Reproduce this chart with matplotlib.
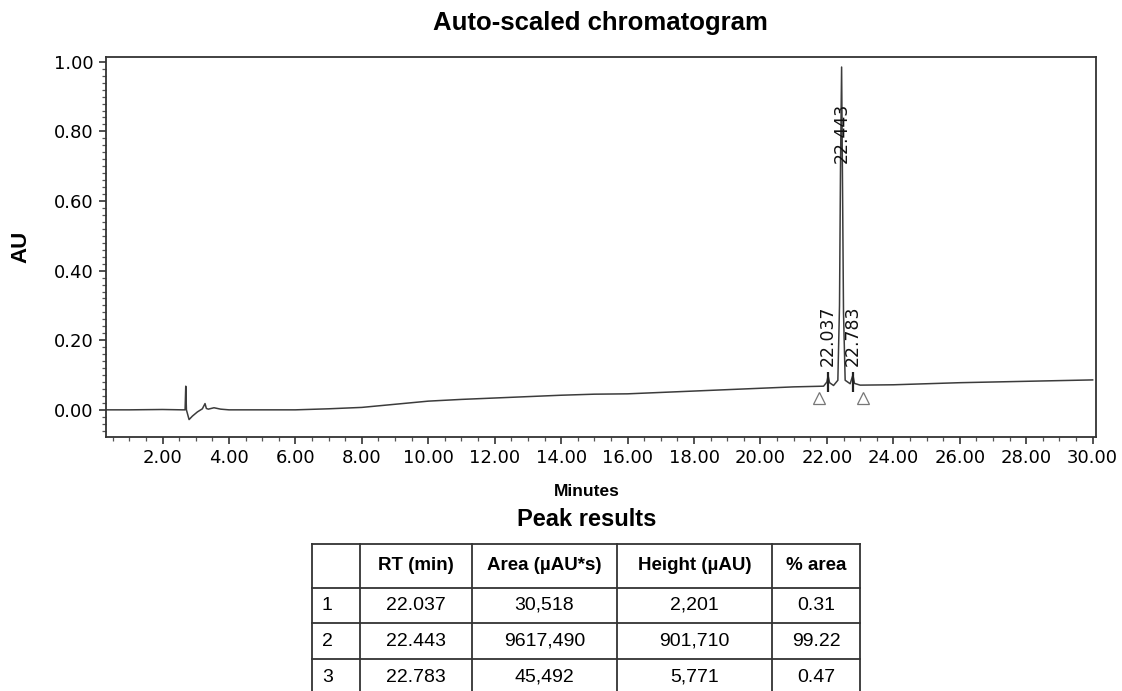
import matplotlib.pyplot as plt
from matplotlib.ticker import MultipleLocator, FormatStrFormatter

# chromatogram trace (minutes, AU)
time_min = [0.3, 1.0, 2.0, 2.6, 2.68, 2.70, 2.72, 2.80, 2.90, 3.05, 3.20, 3.28, 3.32, 3.38,
            3.55, 3.75, 4.0, 5.0, 6.0, 7.0, 8.0, 9.0, 10.0, 11.0, 12.0, 13.0, 14.0,
            15.0, 16.0, 17.0, 18.0, 19.0, 20.0, 21.0, 21.9, 22.0, 22.037, 22.08,
            22.2, 22.33, 22.38, 22.41, 22.443, 22.47, 22.50, 22.55, 22.70, 22.783,
            22.83, 23.0, 24.0, 25.0, 26.0, 27.0, 28.0, 29.0, 30.0]
au = [0.0, 0.0, 0.001, 0.0, 0.0, 0.068, 0.0, -0.028, -0.018, -0.006, 0.003, 0.018, 0.004, 0.002,
      0.006, 0.002, 0.0, 0.0, 0.0, 0.003, 0.007, 0.016, 0.025, 0.030, 0.034, 0.038, 0.042,
      0.045, 0.046, 0.050, 0.054, 0.058, 0.062, 0.066, 0.068, 0.080, 0.098, 0.078,
      0.070, 0.085, 0.30, 0.70, 0.985, 0.65, 0.28, 0.085, 0.075, 0.100,
      0.076, 0.071, 0.072, 0.075, 0.078, 0.080, 0.082, 0.084, 0.086]

peak_rt = [22.037, 22.443, 22.783]
peak_label_y = [0.125, 0.71, 0.125]
bound_time = [21.75, 23.10]
bound_au = [0.035, 0.035]

# peak results table
headers = ['', 'RT (min)', 'Area (µAU*s)', 'Height (µAU)', '% area']
peak_ids = ['1', '2', '3']
rt_text = ['22.037', '22.443', '22.783']
area_text = ['30,518', '9617,490', '45,492']
height_text = ['2,201', '901,710', '5,771']
pct_text = ['0.31', '99.22', '0.47']

sans = 'Liberation Sans'
scan = 'DejaVu Sans'
line_col = '#3c3c3c'

fig = plt.figure(figsize=(11.22, 6.91), dpi=100)
ax = fig.add_axes([0.0945, 0.3676, 0.8823, 0.55])

ax.plot(time_min, au, color=line_col, lw=1.1)
ax.vlines([peak_rt[0], peak_rt[2]], 0.05, 0.11, color='#222222', lw=1.6)
ax.plot(bound_time, bound_au, linestyle='none', marker='^', markersize=8,
        markerfacecolor='white', markeredgecolor='#777777', markeredgewidth=0.9)
for rt, y in zip(peak_rt, peak_label_y):
    ax.text(rt, y, f'{rt:.3f}', rotation=90, ha='center', va='bottom',
            fontsize=12.5, family=scan, color='#111111')

ax.set_xlim(0.3, 30.1)
ax.set_ylim(-0.078, 1.014)
ax.xaxis.set_major_locator(MultipleLocator(2))
ax.xaxis.set_minor_locator(MultipleLocator(0.5))
ax.yaxis.set_major_locator(MultipleLocator(0.2))
ax.yaxis.set_minor_locator(MultipleLocator(0.02))
ax.xaxis.set_major_formatter(FormatStrFormatter('%.2f'))
ax.yaxis.set_major_formatter(FormatStrFormatter('%.2f'))
ax.set_xticks([t for t in range(2, 31, 2)])
ax.tick_params(axis='both', which='major', length=5, width=1.2, labelsize=13,
               colors='#333333', labelcolor='black', pad=4)
ax.tick_params(axis='both', which='minor', length=3, width=0.9, colors='#555555')
for lab in ax.get_xticklabels() + ax.get_yticklabels():
    lab.set_family(scan)
for sp in ax.spines.values():
    sp.set_color('#333333')
    sp.set_linewidth(1.3)

ax.set_ylabel('AU', fontsize=16, fontweight='bold', family=sans, labelpad=16)
fig.text(0.5348, 0.9665, 'Auto-scaled chromatogram', ha='center', va='center',
         fontsize=18.5, fontweight='bold', family=sans)
fig.text(587 / 1122, 1 - 492 / 691, 'Minutes', ha='center', va='center',
         fontsize=12.5, fontweight='bold', family=sans)
fig.text(587 / 1122, 1 - 520 / 691, 'Peak results', ha='center', va='center',
         fontsize=17, fontweight='bold', family=sans)

# table drawn in pixel coordinates
tab = fig.add_axes([0, 0, 1, 1])
tab.set_xlim(0, 1122)
tab.set_ylim(691, 0)
tab.axis('off')
col_x = [312, 360, 472, 617, 772, 860]
row_y = [544, 588, 623, 659, 695]
for x in col_x:
    tab.plot([x, x], [row_y[0], 691], color='#333333', lw=1.3)
for y in row_y[:-1]:
    tab.plot([col_x[0], col_x[-1]], [y, y], color='#333333', lw=1.3)

columns = [peak_ids, rt_text, area_text, height_text, pct_text]
for j, head in enumerate(headers):
    cx = (col_x[j] + col_x[j + 1]) / 2
    tab.text(cx, (row_y[0] + row_y[1]) / 2, head, ha='center', va='center',
             fontsize=13.5, fontweight='bold', family=sans)
    for i, val in enumerate(columns[j]):
        cy = (row_y[i + 1] + row_y[i + 2]) / 2
        if j == 0:
            tab.text(col_x[0] + 10, cy, val, ha='left', va='center', fontsize=14, family=sans)
        else:
            tab.text(cx, cy, val, ha='center', va='center', fontsize=14, family=sans)

fig.savefig('out.png', dpi=100)
